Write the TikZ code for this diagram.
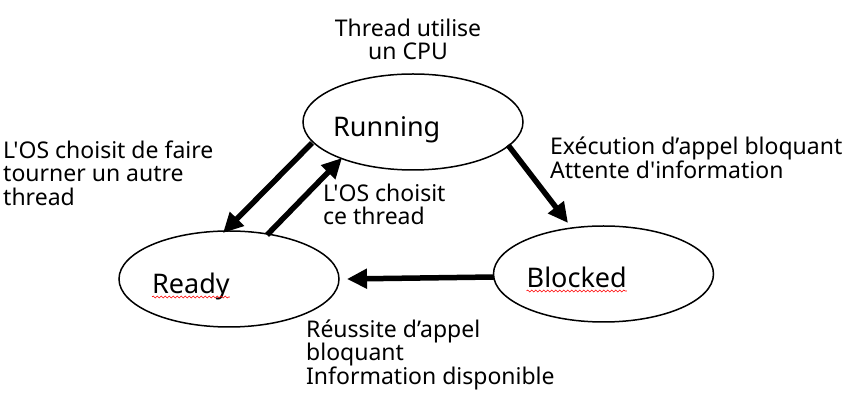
\documentclass[tikz,border=0pt]{standalone}
\usepackage{fontspec}
\setmainfont[Ligatures=TeXOff]{Noto Sans}
\usetikzlibrary{shapes.geometric, arrows.meta, decorations.pathmorphing}

\begin{document}
\begin{tikzpicture}[x=1pt, y=1pt, >={Triangle[length=20pt, width=19pt]},
  etat/.style={ellipse, draw=black, line width=1.5pt, minimum width=220pt, minimum height=96pt, inner sep=0pt},
  nometat/.style={anchor=base west, inner sep=0pt, font=\fontsize{27}{30}\selectfont},
  fleche/.style={->, line width=5.5pt},
  legende/.style={inner sep=0pt, font=\fontsize{23}{23.5}\selectfont},
  souligne/.style={red, line width=0.6pt, decorate, decoration={snake, amplitude=1pt, segment length=4pt}}]

\useasboundingbox (0,0) rectangle (852,401);

% Les états
\node[etat] (running) at (413,279) {};
\node[etat] (ready) at (229,122) {};
\node[etat] (blocked) at (603.5,127) {};

% Les noms des états
\node[nometat] (trunning) at ([xshift=-80pt, yshift=-15pt]running.center) {Running};
\node[nometat] (tready) at ([xshift=-77pt, yshift=-15pt]ready.center) {Ready};
\node[nometat] (tblocked) at ([xshift=-77pt, yshift=-14pt]blocked.center) {Blocked};

% Soulignement du correcteur
\draw[souligne] ([yshift=-3pt]tready.base west) -- ([yshift=-3pt]tready.base east);
\draw[souligne] ([yshift=-3pt]tblocked.base west) -- ([yshift=-3pt]tblocked.base east);

% Les transitions
\draw[fleche] ([shift={(-101,-21)}]running.center) -- ([shift={(-6,46)}]ready.center);
\draw[fleche] ([shift={(38,44)}]ready.center) -- ([shift={(-71,-36)}]running.center);
\draw[fleche] ([shift={(95,-23)}]running.center) -- ([shift={(-35.5,51)}]blocked.center);
\draw[fleche] ([shift={(-109.5,-3)}]blocked.center) -- ([shift={(118,0)}]ready.center);

% Les légendes
\node[legende, anchor=north, align=center] (tcpu) at (408,382.5) {Thread utilise\\un CPU};
\node[legende, anchor=north west, align=left] (tpreempt) at (3,260.5) {L'OS choisit de faire\\tourner un autre\\thread};
\node[legende, anchor=north west, align=left] (tchoix) at (323,217.5) {L'OS choisit\\ce thread};
\node[legende, anchor=north west, align=left] (tbloque) at (550,264) {Exécution d’appel bloquant\\Attente d'information};
\node[legende, anchor=north west, align=left] (treussite) at (306,81.5) {Réussite d’appel\\bloquant\\Information disponible};

\end{tikzpicture}
\end{document}
